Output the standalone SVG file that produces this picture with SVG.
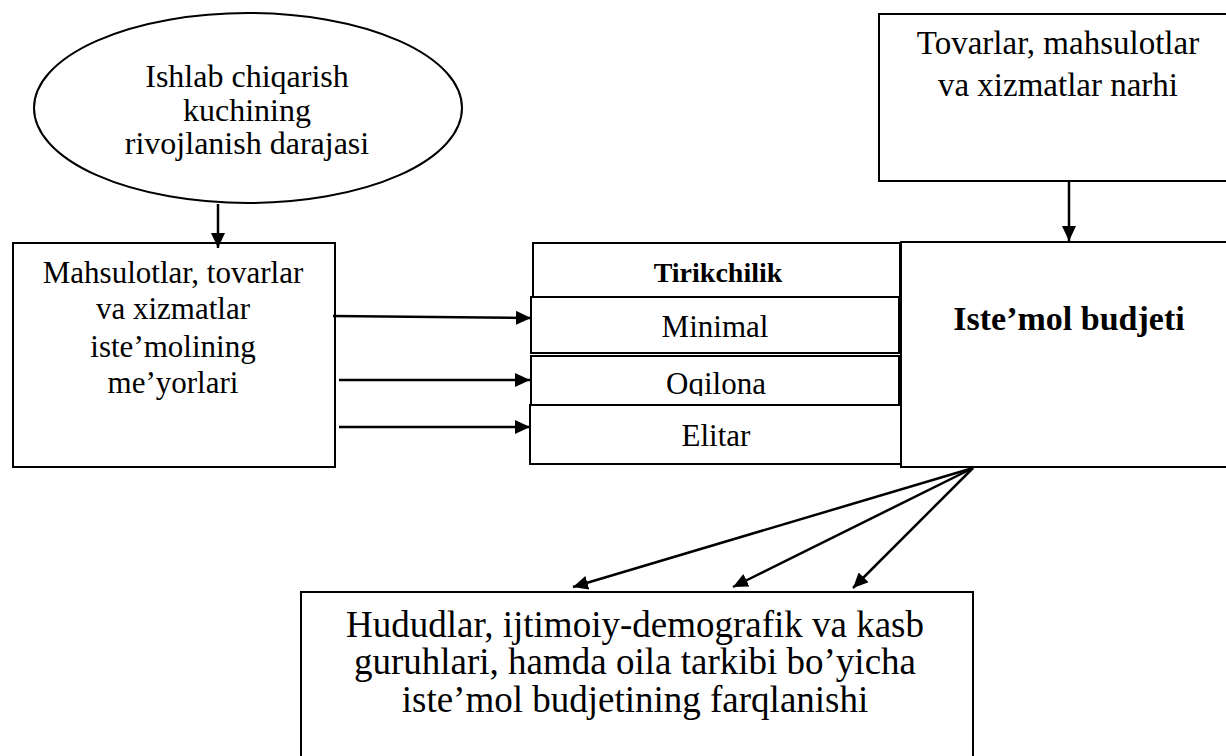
<svg xmlns="http://www.w3.org/2000/svg" width="1226" height="756" viewBox="0 0 1226 756">
<style>
.box{fill:#fff;stroke:#000;stroke-width:2}
.t{font-family:"Liberation Serif","Times New Roman",serif;fill:#000;text-anchor:middle}
.b{font-weight:bold}
.c{fill:none;stroke:#000;stroke-width:2.5}
</style>
<defs>
<marker id="ah" viewBox="0 0 15 14" refX="15" refY="7" markerWidth="15" markerHeight="14" markerUnits="userSpaceOnUse" orient="auto">
<path d="M0,0 L15,7 L0,14 Z" fill="#000"/>
</marker>
<clipPath id="oqclip"><rect x="531" y="356" width="368" height="40"/></clipPath>
</defs>
<rect width="1226" height="756" fill="#fff"/>

<g id="ellipse-node">
<ellipse cx="248" cy="108" rx="214" ry="95" class="box"/>
<text class="t" font-size="32" x="247" y="87">Ishlab chiqarish</text>
<text class="t" font-size="32" x="247" y="121">kuchining</text>
<text class="t" font-size="32" x="247" y="154">rivojlanish darajasi</text>
</g>

<g id="prices-node">
<rect x="879" y="14" width="360" height="167" class="box"/>
<text class="t" font-size="33" x="1058" y="54">Tovarlar, mahsulotlar</text>
<text class="t" font-size="33" x="1058" y="96">va xizmatlar narhi</text>
</g>

<g id="norms-node">
<rect x="13" y="243" width="322" height="224" class="box"/>
<text class="t" font-size="31" x="173" y="283">Mahsulotlar, tovarlar</text>
<text class="t" font-size="31" x="173" y="319">va xizmatlar</text>
<text class="t" font-size="31" x="173" y="357">iste’molining</text>
<text class="t" font-size="31" x="173" y="393">me’yorlari</text>
</g>

<g id="tirikchilik-node">
<rect x="533" y="243" width="367" height="54" class="box"/>
<text class="t b" font-size="28" x="718" y="282">Tirikchilik</text>
</g>
<g id="minimal-node">
<rect x="531" y="297" width="368" height="56" class="box"/>
<text class="t" font-size="31" x="715" y="337">Minimal</text>
</g>
<g id="oqilona-node">
<rect x="531" y="356" width="368" height="49" class="box"/>
<text class="t" font-size="31" x="716" y="394" clip-path="url(#oqclip)">Oqilona</text>
</g>
<g id="elitar-node">
<rect x="530" y="405" width="372" height="59" class="box"/>
<text class="t" font-size="31" x="716" y="446">Elitar</text>
</g>

<g id="budget-node">
<rect x="901" y="242" width="340" height="225" class="box"/>
<text class="t b" font-size="34" x="1069" y="330">Iste’mol budjeti</text>
</g>

<g id="diff-node">
<rect x="301" y="592" width="672" height="170" class="box"/>
<text class="t" font-size="37" x="635" y="637">Hududlar, ijtimoiy-demografik va kasb</text>
<text class="t" font-size="37" x="635" y="674">guruhlari, hamda oila tarkibi bo’yicha</text>
<text class="t" font-size="37" x="635" y="712">iste’mol budjetining farqlanishi</text>
</g>

<g id="connectors">
<line x1="218" y1="204" x2="218" y2="248" class="c" marker-end="url(#ah)"/>
<line x1="1069" y1="181" x2="1069" y2="241" class="c" marker-end="url(#ah)"/>
<line x1="333" y1="316" x2="531" y2="318" class="c" marker-end="url(#ah)"/>
<line x1="339" y1="380" x2="530" y2="380" class="c" marker-end="url(#ah)"/>
<line x1="339" y1="427" x2="530" y2="427" class="c" marker-end="url(#ah)"/>
<line x1="973" y1="468" x2="573" y2="587" class="c" marker-end="url(#ah)"/>
<line x1="973" y1="468" x2="733" y2="587" class="c" marker-end="url(#ah)"/>
<line x1="973" y1="468" x2="853" y2="588" class="c" marker-end="url(#ah)"/>
</g>
</svg>
